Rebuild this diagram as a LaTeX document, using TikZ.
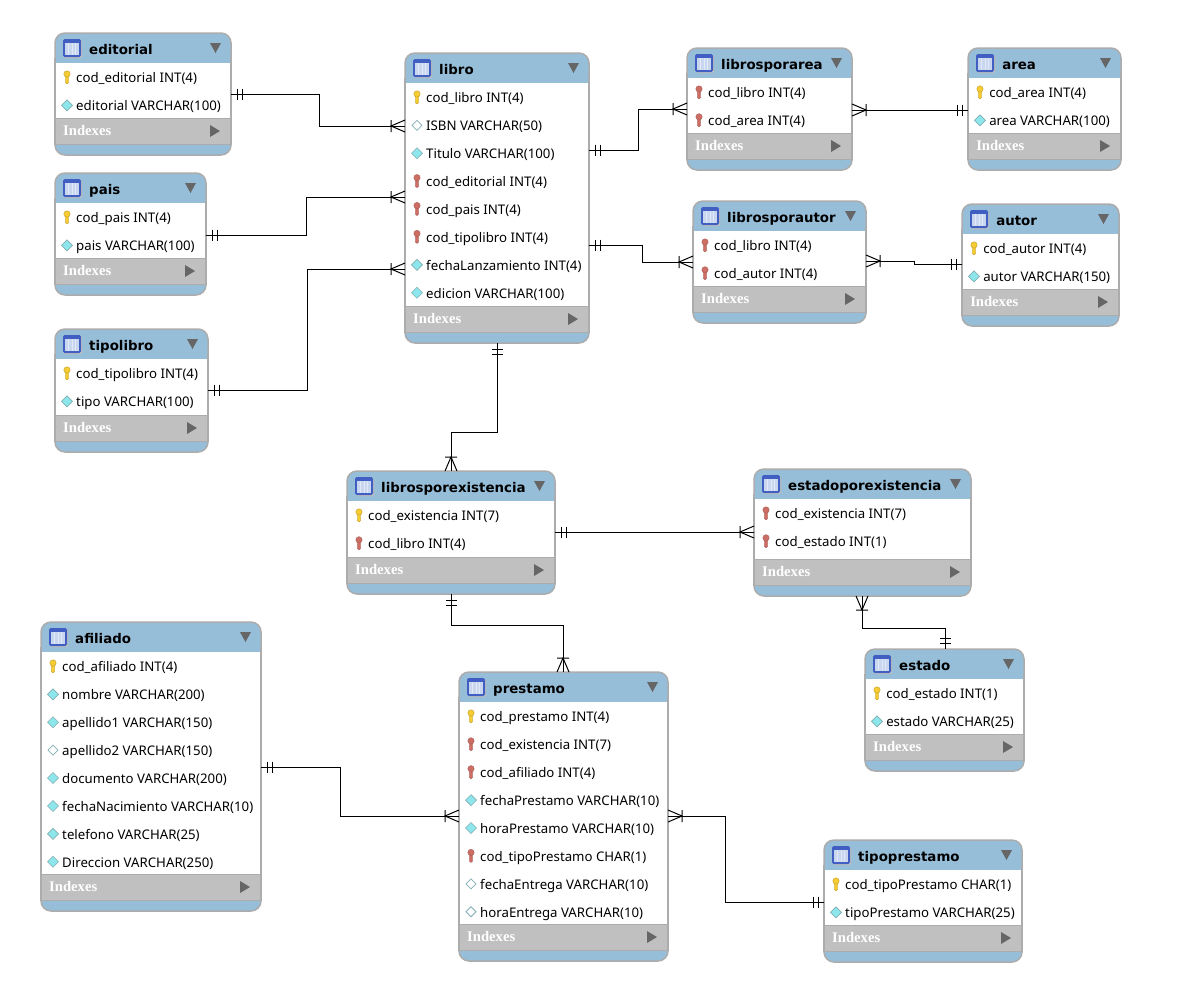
\documentclass[tikz,border=0pt]{standalone}
\usepackage{fontspec}
\setmainfont{Noto Sans}
\newfontfamily\titlefont{DejaVu Sans}
\newfontfamily\indexfont{Liberation Serif}
\usepackage{xcolor}
\definecolor{HeadBlue}{RGB}{151,190,217}
\definecolor{BandGray}{RGB}{192,192,192}
\definecolor{EdgeGray}{RGB}{172,172,172}
\definecolor{MarkGray}{RGB}{102,102,102}
\definecolor{KeyGold}{RGB}{245,205,50}
\definecolor{KeyGoldDark}{RGB}{190,150,40}
\definecolor{KeyRed}{RGB}{205,110,100}
\definecolor{KeyRedDark}{RGB}{165,90,85}
\definecolor{GemCyan}{RGB}{140,230,235}
\definecolor{GemEdge}{RGB}{130,175,180}
\definecolor{IconBlue}{RGB}{65,95,195}
\definecolor{IconLight}{RGB}{200,214,240}
\usetikzlibrary{decorations.markings}

\tikzset{
  tablebox/.style={rectangle, rounded corners=0.3cm, draw=EdgeGray, fill=HeadBlue,
                   line width=0.045cm, inner sep=0pt, outer sep=0pt, anchor=north west},
  titletxt/.style={font=\titlefont\fontsize{11.4}{14}\selectfont\bfseries, anchor=base west, inner sep=0pt},
  rowtxt/.style={font=\fontsize{11.3}{13}\selectfont, anchor=base west, inner sep=0pt},
  indextxt/.style={font=\indexfont\fontsize{12.5}{14}\selectfont\bfseries, text=white,
                   anchor=base west, inner sep=0pt},
  rel/.style={draw=black, line width=0.85pt},
  one start/.style={postaction={decorate, decoration={markings,
      mark=at position 0.18cm with {\draw[rel] (0,-5.5)--(0,5.5) (5,-5.5)--(5,5.5);}}}},
  one end/.style={postaction={decorate, decoration={markings,
      mark=at position -0.33cm with {\draw[rel] (0,-5.5)--(0,5.5) (5,-5.5)--(5,5.5);}}}},
  many start/.style={postaction={decorate, decoration={markings,
      mark=at position 0.42cm with {\draw[rel] (0,-6)--(0,6) (-14,-6)--(0,0)--(-14,6);}}}},
  many end/.style={postaction={decorate, decoration={markings,
      mark=at position -0.42cm with {\draw[rel] (0,-6)--(0,6) (14,-6)--(0,0)--(14,6);}}}},
  pk/.pic={
    \draw[KeyGoldDark, line width=0.3pt, fill=KeyGold] (-1.7,-2)--(-1.7,5)--(0,6.5)--(1.7,5)--(1.7,-2)--cycle;
    \draw[KeyGoldDark, line width=0.3pt, fill=KeyGold] (0,-3.5) circle[radius=3.2];
  },
  fk/.pic={
    \draw[KeyRedDark, line width=0.3pt, fill=KeyRed] (-1.7,-2)--(-1.7,5)--(0,6.5)--(1.7,5)--(1.7,-2)--cycle;
    \draw[KeyRedDark, line width=0.3pt, fill=KeyRed] (0,-3.5) circle[radius=3.2];
  },
  nn/.pic={
    \fill[GemCyan, draw=GemEdge, line width=0.5pt] (-5.5,0)--(0,-5.5)--(5.5,0)--(0,5.5)--cycle;
  },
  nl/.pic={
    \fill[white, draw=GemEdge, line width=0.7pt] (-5,0)--(0,-5)--(5,0)--(0,5)--cycle;
  },
  tabicon/.pic={
    \fill[black!25, rounded corners=0.05cm] (-8,-8) rectangle (10,10);
    \fill[IconBlue, rounded corners=0.05cm] (-9,-9) rectangle (9,9);
    \fill[IconLight] (-7,-5) rectangle (7,7);
    \foreach \sx in {-3.5,0,3.5}
      \draw[white!45!IconLight, line width=0.7pt] (\sx,-5)--(\sx,7);
  }
}

% name, left, top, right, bottom, rows
\newcommand{\ertable}[6]{
  \node[tablebox, minimum width={(#4-#2)*0.03cm}, minimum height={(#5-#3)*0.03cm}] (#1) at (#2,#3) {};
  \fill[white] ({#2+1},{#3+30}) rectangle ({#4-1},{#5-37});
  \fill[BandGray] ({#2+1},{#5-37}) rectangle ({#4-1},{#5-11});
  \draw[EdgeGray, line width=0.03cm] ({#2+1},{#5-37})--({#4-1},{#5-37}) ({#2+1},{#5-11})--({#4-1},{#5-11});
  \draw[EdgeGray, line width=0.045cm] ({#2},{#3+25})--({#2},{#5-10}) ({#4},{#3+25})--({#4},{#5-10});
  \pic at ({#2+17},{#3+15}) {tabicon};
  \node[titletxt] (#1-title) at ({#2+34},{#3+21.5}) {#1};
  \fill[MarkGray] ({#4-21},{#3+10})--({#4-10},{#3+10})--({#4-15.5},{#3+20})--cycle;
  \foreach \kind/\txt [count=\i] in {#6} {
    \pgfmathsetmacro\rowy{#3+30.5+(\i-0.5)*27.9}
    \pic at ({#2+12},\rowy) {\kind};
    \node[rowtxt] (#1-row\i) at ({#2+21},{\rowy+5.3}) {\txt};
  }
  \node[indextxt] (#1-index) at ({#2+8},{#5-19.5}) {Indexes};
  \fill[MarkGray] ({#4-21},{#5-30})--({#4-21},{#5-18})--({#4-11},{#5-24})--cycle;
}

\begin{document}
\begin{tikzpicture}[x=0.03cm, y=-0.03cm]
  \useasboundingbox (0,0) rectangle (1188,1002);

  \ertable{editorial}{55}{33}{231}{155}{pk/cod\_editorial INT(4), nn/editorial VARCHAR(100)}
  \ertable{pais}{55}{173}{206}{295}{pk/cod\_pais INT(4), nn/pais VARCHAR(100)}
  \ertable{tipolibro}{55}{329}{208}{452}{pk/cod\_tipolibro INT(4), nn/tipo VARCHAR(100)}
  \ertable{libro}{405}{53}{589}{343}{pk/cod\_libro INT(4), nl/ISBN VARCHAR(50), nn/Titulo VARCHAR(100),
    fk/cod\_editorial INT(4), fk/cod\_pais INT(4), fk/cod\_tipolibro INT(4),
    nn/fechaLanzamiento INT(4), nn/edicion VARCHAR(100)}
  \ertable{librosporarea}{687}{48}{852}{170}{fk/cod\_libro INT(4), fk/cod\_area INT(4)}
  \ertable{area}{968}{48}{1121}{170}{pk/cod\_area INT(4), nn/area VARCHAR(100)}
  \ertable{librosporautor}{693}{201}{866}{323}{fk/cod\_libro INT(4), fk/cod\_autor INT(4)}
  \ertable{autor}{962}{204}{1119}{326}{pk/cod\_autor INT(4), nn/autor VARCHAR(150)}
  \ertable{librosporexistencia}{347}{471}{555}{594}{pk/cod\_existencia INT(7), fk/cod\_libro INT(4)}
  \ertable{estadoporexistencia}{754}{469}{971}{596}{fk/cod\_existencia INT(7), fk/cod\_estado INT(1)}
  \ertable{estado}{865}{649}{1024}{771}{pk/cod\_estado INT(1), nn/estado VARCHAR(25)}
  \ertable{afiliado}{41}{622}{261}{911}{pk/cod\_afiliado INT(4), nn/nombre VARCHAR(200), nn/apellido1 VARCHAR(150),
    nl/apellido2 VARCHAR(150), nn/documento VARCHAR(200), nn/fechaNacimiento VARCHAR(10),
    nn/telefono VARCHAR(25), nn/Direccion VARCHAR(250)}
  \ertable{prestamo}{459}{672}{668}{961}{pk/cod\_prestamo INT(4), fk/cod\_existencia INT(7), fk/cod\_afiliado INT(4),
    nn/fechaPrestamo VARCHAR(10), nn/horaPrestamo VARCHAR(10), fk/cod\_tipoPrestamo CHAR(1),
    nl/fechaEntrega VARCHAR(10), nl/horaEntrega VARCHAR(10)}
  \ertable{tipoprestamo}{824}{840}{1022}{962}{pk/cod\_tipoPrestamo CHAR(1), nn/tipoPrestamo VARCHAR(25)}

  \draw[rel, one start, many end] (editorial.east |- 0,94) -- (319,94) -- (319,126) -- (libro.west |- 0,126);
  \draw[rel, one start, many end] (pais.east |- 0,235) -- (306,235) -- (306,197) -- (libro.west |- 0,197);
  \draw[rel, one start, many end] (tipolibro.east |- 0,390) -- (307,390) -- (307,269) -- (libro.west |- 0,269);
  \draw[rel, one start, many end] (libro.east |- 0,150) -- (638,150) -- (638,109) -- (librosporarea.west |- 0,109);
  \draw[rel, many start, one end] (librosporarea.east |- 0,110) -- (area.west |- 0,110);
  \draw[rel, one start, many end] (libro.east |- 0,245) -- (642,245) -- (642,262) -- (librosporautor.west |- 0,262);
  \draw[rel, many start, one end] (librosporautor.east |- 0,261) -- (914,261) -- (914,264) -- (autor.west |- 0,264);
  \draw[rel, one start, many end] (497,0 |- libro.south) -- (497,432) -- (451,432) -- (451,0 |- librosporexistencia.north);
  \draw[rel, one start, many end] (librosporexistencia.east |- 0,532) -- (estadoporexistencia.west |- 0,532);
  \draw[rel, one start, many end] (451,0 |- librosporexistencia.south) -- (451,625) -- (563,625) -- (563,0 |- prestamo.north);
  \draw[rel, many start, one end] (862,0 |- estadoporexistencia.south) -- (862,628) -- (945,628) -- (945,0 |- estado.north);
  \draw[rel, one start, many end] (afiliado.east |- 0,767) -- (340,767) -- (340,816) -- (prestamo.west |- 0,816);
  \draw[rel, many start, one end] (prestamo.east |- 0,816) -- (725,816) -- (725,902) -- (tipoprestamo.west |- 0,902);
\end{tikzpicture}
\end{document}
